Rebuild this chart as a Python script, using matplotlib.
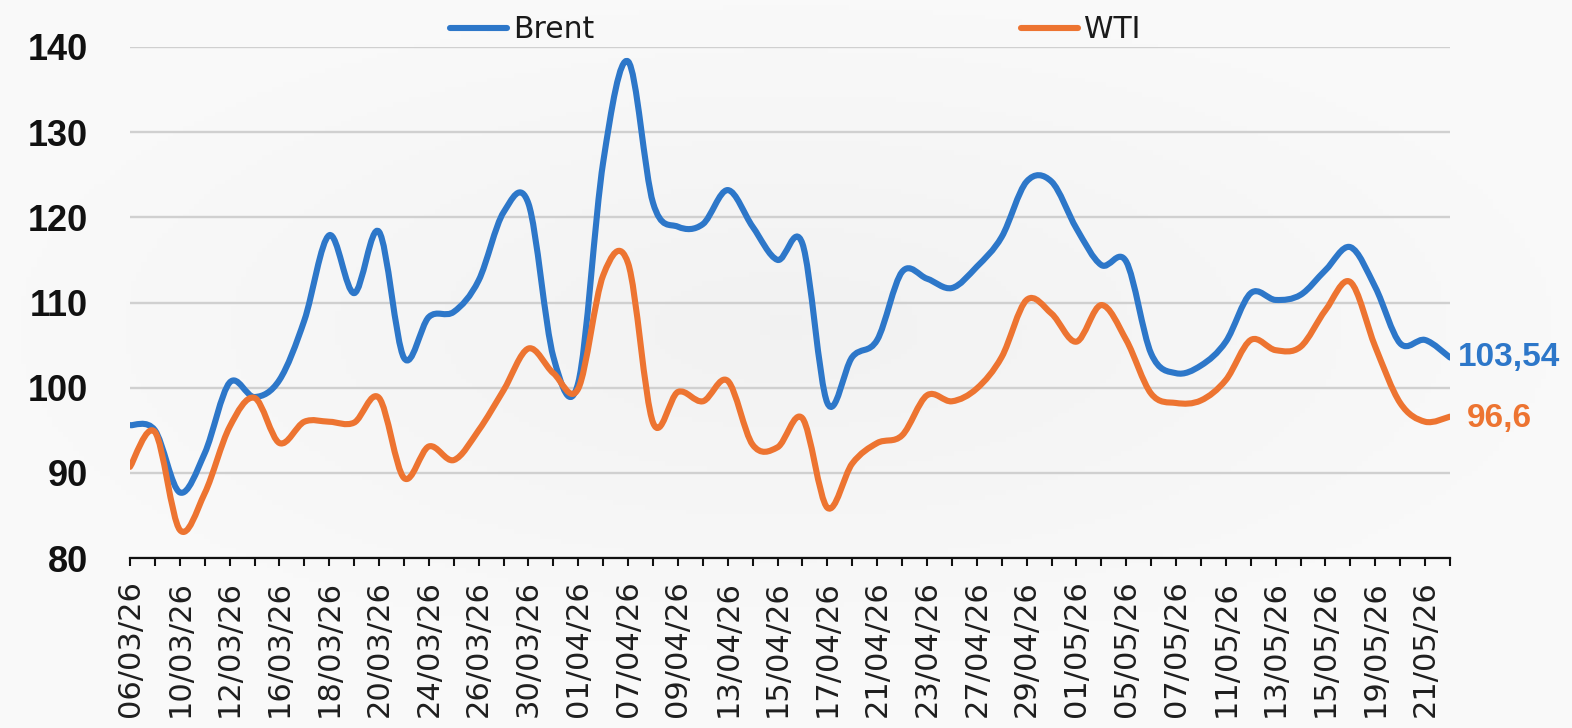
import matplotlib
matplotlib.use("Agg")
import matplotlib.pyplot as plt
import numpy as np
from matplotlib.path import Path
from matplotlib.patches import PathPatch
from matplotlib.lines import Line2D

# ---------------- data ----------------
dates = ["06/03/26", "09/03/26", "10/03/26", "11/03/26", "12/03/26", "13/03/26",
         "16/03/26", "17/03/26", "18/03/26", "19/03/26", "20/03/26", "23/03/26",
         "24/03/26", "25/03/26", "26/03/26", "27/03/26", "30/03/26", "31/03/26",
         "01/04/26", "02/04/26", "07/04/26", "08/04/26", "09/04/26", "10/04/26",
         "13/04/26", "14/04/26", "15/04/26", "16/04/26", "17/04/26", "20/04/26",
         "21/04/26", "22/04/26", "23/04/26", "24/04/26", "27/04/26", "28/04/26",
         "29/04/26", "30/04/26", "01/05/26", "04/05/26", "05/05/26", "06/05/26",
         "07/05/26", "08/05/26", "11/05/26", "12/05/26", "13/05/26", "14/05/26",
         "15/05/26", "18/05/26", "19/05/26", "20/05/26", "21/05/26", "22/05/26"]

brent = [95.6, 95.0, 87.7, 92.3, 100.6, 98.9, 100.9, 107.9, 117.9, 111.1,
         118.3, 103.5, 108.3, 108.9, 112.6, 120.6, 121.6, 103.6, 100.6, 126.5,
         138.3, 121.7, 118.9, 119.2, 123.2, 118.9, 115.0, 116.9, 98.2, 103.6,
         105.6, 113.6, 112.8, 111.7, 114.2, 117.7, 124.2, 124.2, 118.7, 114.4,
         114.8, 104.0, 101.7, 102.6, 105.4, 111.1, 110.3, 110.9, 113.8, 116.5,
         111.8, 105.2, 105.6, 103.54]

wti = [90.7, 94.8, 83.3, 87.6, 95.4, 98.8, 93.5, 96.0, 96.0, 95.9,
       98.8, 89.4, 93.1, 91.5, 95.0, 99.7, 104.6, 101.7, 99.9, 113.2,
       114.6, 95.9, 99.5, 98.4, 100.8, 93.3, 93.0, 96.4, 85.9, 91.1,
       93.5, 94.4, 99.1, 98.4, 99.9, 103.6, 110.3, 108.7, 105.4, 109.7,
       105.6, 99.3, 98.2, 98.5, 100.9, 105.6, 104.4, 104.8, 109.1, 112.4,
       104.8, 98.2, 96.0, 96.6]

series_names = ["Brent", "WTI"]
last_labels = ["103,54", "96,6"]
y_ticks = [80, 90, 100, 110, 120, 130, 140]

BLUE = "#2d77c9"
ORANGE = "#ed7431"


def smooth_path(xs, ys):
    """Excel-like smoothed line (Catmull-Rom via cubic Bezier)."""
    n = len(xs)
    verts = [(xs[0], ys[0])]
    codes = [Path.MOVETO]
    for i in range(n - 1):
        p0 = (xs[max(i - 1, 0)], ys[max(i - 1, 0)])
        p1 = (xs[i], ys[i])
        p2 = (xs[i + 1], ys[i + 1])
        p3 = (xs[min(i + 2, n - 1)], ys[min(i + 2, n - 1)])
        c1 = (p1[0] + (p2[0] - p0[0]) / 6.0, p1[1] + (p2[1] - p0[1]) / 6.0)
        c2 = (p2[0] - (p3[0] - p1[0]) / 6.0, p2[1] - (p3[1] - p1[1]) / 6.0)
        verts += [c1, c2, p2]
        codes += [Path.CURVE4] * 3
    return Path(verts, codes)


W, H = 1572, 728
fig = plt.figure(figsize=(W / 100, H / 100), dpi=100)
fig.patch.set_facecolor("#f7f7f7")

# subtle background gradient
bg = fig.add_axes([0, 0, 1, 1], zorder=-10)
gx, gy = np.meshgrid(np.linspace(-1, 1, 300), np.linspace(-1, 1, 150))
r = np.sqrt(((gx - 0.0) / 1.1) ** 2 + ((gy + 0.1) / 1.0) ** 2)
shade = 0.948 + 0.032 * np.clip(r, 0, 1)
bg.imshow(np.dstack([shade] * 3), aspect="auto", extent=[0, 1, 0, 1])
bg.axis("off")

left, right = 130 / W, 1450 / W
bottom, top = 1 - 558 / H, 1 - 47 / H
ax = fig.add_axes([left, bottom, right - left, top - bottom])
ax.patch.set_alpha(0)

x = np.arange(len(dates))
for vals, col in ((brent, BLUE), (wti, ORANGE)):
    p = smooth_path(x, vals)
    ax.add_patch(PathPatch(p, fill=False, edgecolor=col, lw=4.4,
                           capstyle="round", joinstyle="round", zorder=3))

ax.set_xlim(0, len(dates) - 1)
ax.set_ylim(80, 140)
ax.set_yticks(y_ticks)
ax.set_yticklabels([str(v) for v in y_ticks],
                   fontfamily="Liberation Sans", fontweight="bold", fontsize=26)
ax.yaxis.grid(True, color="#d0d0d0", lw=1.7)
ax.set_axisbelow(True)
ax.tick_params(axis="y", length=0, pad=30, colors="#111111")

ax.set_xticks(x)
ax.set_xticklabels([d if i % 2 == 0 else "" for i, d in enumerate(dates)],
                   fontfamily="DejaVu Sans", fontsize=22, rotation=90,
                   color="#1e1e1e")
ax.tick_params(axis="x", length=6, width=1.5, direction="out", pad=10,
               color="#111111")

for s in ("left", "right", "top"):
    ax.spines[s].set_visible(False)
ax.spines["bottom"].set_color("#111111")
ax.spines["bottom"].set_linewidth(1.6)

# end-of-line labels
ax.annotate(last_labels[0], xy=(x[-1], brent[-1]), xytext=(6, 0),
            textcoords="offset points", va="center", ha="left",
            fontfamily="Liberation Sans", fontweight="bold", fontsize=24,
            color=BLUE, annotation_clip=False)
ax.annotate(last_labels[1], xy=(x[-1], wti[-1]), xytext=(12, -1.5),
            textcoords="offset points", va="center", ha="left",
            fontfamily="Liberation Sans", fontweight="bold", fontsize=24,
            color=ORANGE, annotation_clip=False)

handles = [Line2D([], [], color=BLUE, lw=4.4, solid_capstyle="round"),
           Line2D([], [], color=ORANGE, lw=4.4, solid_capstyle="round")]
leg = fig.legend(handles, series_names, loc="center",
                 bbox_to_anchor=(795 / W, 1 - 30 / H), ncol=2, frameon=False,
                 prop={"family": "DejaVu Sans", "size": 21.5},
                 handlelength=1.9, handletextpad=0.2, columnspacing=14.3,
                 borderpad=0, borderaxespad=0)
for t in leg.get_texts():
    t.set_color("#1a1a1a")

fig.savefig("out.png", dpi=100, facecolor=fig.get_facecolor())
